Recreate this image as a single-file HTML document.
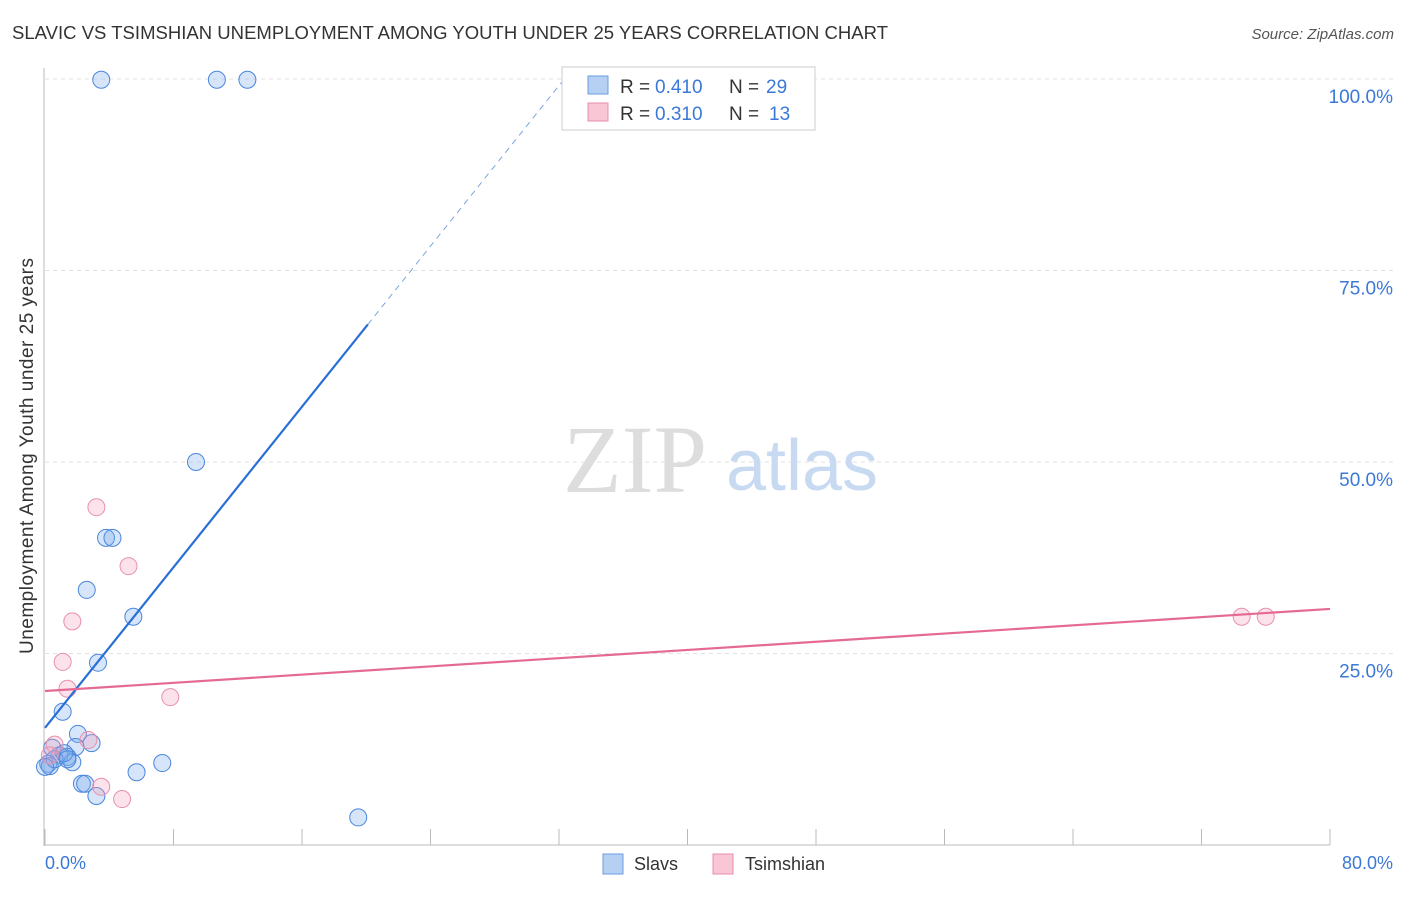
<!DOCTYPE html>
<html><head><meta charset="utf-8"><style>
body{margin:0;background:#fff;font-family:"Liberation Sans",sans-serif;}
</style></head><body>
<svg width="1406" height="892" xmlns="http://www.w3.org/2000/svg">
<text x="12" y="39" font-size="18.5" fill="#333" textLength="876">SLAVIC VS TSIMSHIAN UNEMPLOYMENT AMONG YOUTH UNDER 25 YEARS CORRELATION CHART</text>
<text x="1394" y="39" font-size="15" fill="#555" font-style="italic" text-anchor="end">Source: ZipAtlas.com</text>
<g id="grid"></g>
<text x="635" y="492" font-size="96" fill="#ddd" font-family="Liberation Serif" text-anchor="middle">ZIP</text>
<text x="802" y="490" font-size="72" fill="#c8daf2" text-anchor="middle">atlas</text>
<g id="axes"></g>
<g id="pts"></g>
<g id="lines"></g>
<text x="33" y="456" font-size="19" fill="#333" text-anchor="middle" textLength="396" transform="rotate(-90 33 456)">Unemployment Among Youth under 25 years</text>
<text x="45" y="869" font-size="18" fill="#3b78d8">0.0%</text>
<text x="1393" y="869" font-size="18" fill="#3b78d8" text-anchor="end">80.0%</text>
<g>
<rect x="562" y="67" width="253" height="63" fill="#fff" stroke="#ccc"/>
<rect x="588" y="76" width="20" height="18" fill="#b6d0f4" stroke="#6a9de0"/>
<rect x="588" y="103" width="20" height="18" fill="#f8c6d5" stroke="#e88fac"/>
<text x="620" y="93" font-size="19" fill="#333">R =</text>
<text x="655" y="93" font-size="19" fill="#3b78d8">0.410</text>
<text x="729" y="93" font-size="19" fill="#333">N =</text>
<text x="766" y="93" font-size="19" fill="#3b78d8">29</text>
<text x="620" y="120" font-size="19" fill="#333">R =</text>
<text x="655" y="120" font-size="19" fill="#3b78d8">0.310</text>
<text x="729" y="120" font-size="19" fill="#333">N =</text>
<text x="769" y="120" font-size="19" fill="#3b78d8">13</text>
</g>
<g>
<rect x="603" y="854" width="20" height="20" fill="#b6d0f4" stroke="#6a9de0"/>
<text x="634" y="870" font-size="18" fill="#333">Slavs</text>
<rect x="713" y="854" width="20" height="20" fill="#f8c6d5" stroke="#e88fac"/>
<text x="745" y="870" font-size="18" fill="#333">Tsimshian</text>
</g>
</svg>
<script>
const blueX=[3.5,10.7,12.6,9.4,3.8,4.2,2.6,5.5,3.3,1.1,2.05,2.9,1.9,0.45,0.9,1.4,1.7,0.2,0.3,5.7,7.3,2.3,2.5,3.2,19.5,0.6,1.2,1.4,0.0];
const blueY=[99.9,99.9,99.9,50,40.1,40.1,33.3,29.8,23.8,17.4,14.5,13.3,12.8,12.7,11.7,11.5,10.8,10.6,10.3,9.5,10.7,8.0,8.0,6.4,3.6,11.2,12.0,11.2,10.2];
const pinkX=[3.2,5.2,1.7,1.1,1.4,7.8,2.7,0.6,3.5,4.8,74.5,76,0.3];
const pinkY=[44.1,36.4,29.2,23.9,20.4,19.3,13.7,13.1,7.6,6.0,29.8,29.8,11.7];
const yTicks=[25,50,75,100];
const yTickLabels=["25.0%","50.0%","75.0%","100.0%"];
const xTicks=[0,8,16,24,32,40,48,56,64,72,80];
const blueTrend=[15.3,2.62];
const pinkTrend=[20.1,0.134];
const NS="http://www.w3.org/2000/svg";
const sx=v=>45+v/80*1285, sy=v=>845-v/100*766;
function mk(t,a,p){const e=document.createElementNS(NS,t);for(const k in a)e.setAttribute(k,a[k]);document.getElementById(p).appendChild(e);return e;}
yTicks.forEach((t,i)=>{
 const g=mk('line',{x1:45,x2:1393,y1:sy(t),y2:sy(t),stroke:'#e2e2e2','stroke-dasharray':'4,4'},'grid');
 
 
 const l=mk('text',{x:1393,y:sy(t)+24,'font-size':19,fill:'#3b78d8','text-anchor':'end'},'grid');
 l.textContent=yTickLabels[i];
 
 
});
const ax=mk('line',{x1:44,x2:44,y1:68,y2:846,stroke:'#bbb'},'axes');


const bx=mk('line',{x1:44,x2:1330,y1:845,y2:845,stroke:'#bbb'},'axes');


xTicks.forEach(t=>{const e=mk('line',{x1:sx(t),x2:sx(t),y1:829,y2:845,stroke:'#bbb'},'axes');
 
 });
blueX.forEach((x,i)=>{const c=mk('circle',{cx:sx(x),cy:sy(blueY[i]),r:8.5,fill:'rgba(120,170,235,0.3)',stroke:'#4a86dc','stroke-width':1},'pts');
 
 });
pinkX.forEach((x,i)=>{const c=mk('circle',{cx:sx(x),cy:sy(pinkY[i]),r:8.5,fill:'rgba(245,160,185,0.3)',stroke:'#e890ab','stroke-width':1},'pts');
 
 });
const bf=x=>blueTrend[0]+blueTrend[1]*x;
const b1=mk('line',{x1:sx(0),y1:sy(bf(0)),x2:sx(20.1),y2:sy(bf(20.1)),stroke:'#2a6fd6','stroke-width':2.2},'lines');


const xe=(100-blueTrend[0])/blueTrend[1];
const b2=mk('line',{x1:sx(20.1),y1:sy(bf(20.1)),x2:sx(xe),y2:sy(100),stroke:'#7aa5e0','stroke-width':1,'stroke-dasharray':'6,5'},'lines');


const pf=x=>pinkTrend[0]+pinkTrend[1]*x;
const p1=mk('line',{x1:sx(0),y1:sy(pf(0)),x2:sx(80),y2:sy(pf(80)),stroke:'#e56a93','stroke-width':2.2},'lines');


</script>
</body></html>
